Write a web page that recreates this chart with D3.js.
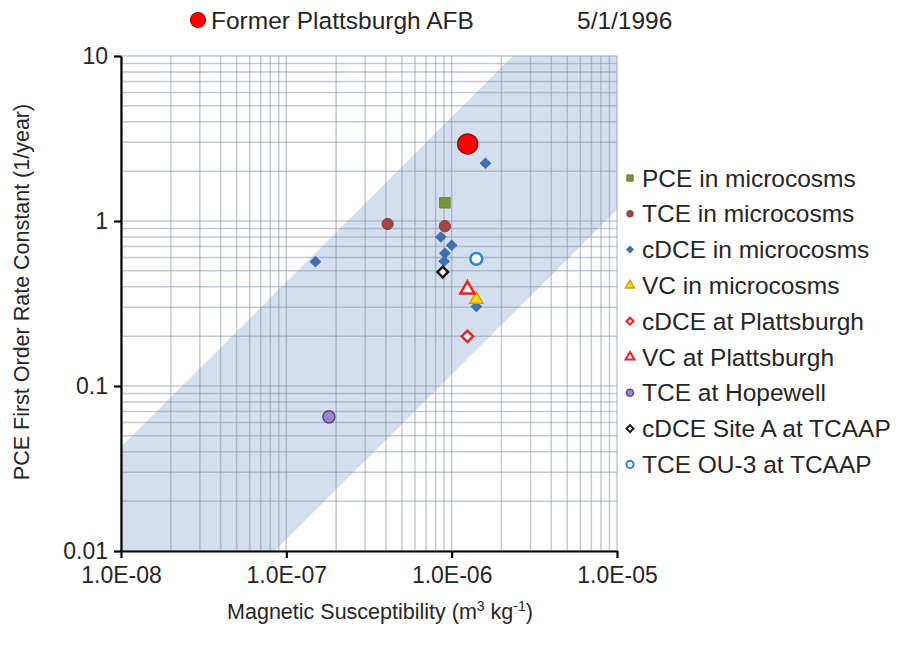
<!DOCTYPE html>
<html>
<head>
<meta charset="utf-8">
<script src="https://cdn.jsdelivr.net/npm/d3@7"></script>
<style>
body { margin: 0; background: #fff; }
text { font-family: "Liberation Sans", Arial, sans-serif; fill: #262626; }
</style>
</head>
<body>
<div id="chart"></div>
<script>
// data
var pceX = [9.1e-7],                pceY = [1.29];
var tceX = [4.1e-7, 9.1e-7],        tceY = [0.96, 0.93];
var cdceX = [1.5e-7, 8.6e-7, 1.0e-6, 9.1e-7, 9.0e-7, 1.41e-6, 1.6e-6];
var cdceY = [0.567, 0.80, 0.713, 0.637, 0.57, 0.303, 2.24];
var vcX = [1.41e-6],                vcY = [0.335];
var cdcePlattX = [1.245e-6],        cdcePlattY = [0.20];
var vcPlattX = [1.245e-6],          vcPlattY = [0.385];
var hopewellX = [1.81e-7],          hopewellY = [0.065];
var siteAX = [8.83e-7],             siteAY = [0.49];
var ou3X = [1.41e-6],               ou3Y = [0.59];
var plattsX = [1.25e-6],            plattsY = [2.93];

var bandX = [1e-8, 2.34e-6, 1e-5, 1e-5, 8.5e-8, 1e-8];
var bandY = [0.0427, 10, 10, 1.17, 0.01, 0.01];

var xTicks = [1e-8, 1e-7, 1e-6, 1e-5];
var xTickLabels = ["1.0E-08", "1.0E-07", "1.0E-06", "1.0E-05"];
var yTicks = [0.01, 0.1, 1, 10];
var yTickLabels = ["0.01", "0.1", "1", "10"];

var legendNames = ["PCE in microcosms", "TCE in microcosms", "cDCE in microcosms", "VC in microcosms",
                   "cDCE at Plattsburgh", "VC at Plattsburgh", "TCE at Hopewell",
                   "cDCE Site A at TCAAP", "TCE OU-3 at TCAAP"];

var svg = d3.select("#chart")
    .append("svg")
    .attr("width", 903)
    .attr("height", 652);

var x = d3.scaleLog().domain([1e-8, 1e-5]).range([121, 617]);
var y = d3.scaleLog().domain([0.01, 10]).range([551, 56]);

// shaded band
var lineGen = d3.line().x(function (d) { return x(d[0]); }).y(function (d) { return y(d[1]); });
svg.append("path")
   .attr("d", lineGen(d3.zip(bandX, bandY)) + "Z")
   .style("fill", "#d3deee")
   .style("stroke", "none");

// grid, majors and minors look the same
var xGrid = [], yGrid = [];
for (var e = -8; e < -5; e++) for (var m = 1; m < 10; m++) xGrid.push(m * Math.pow(10, e));
xGrid.push(1e-5);
for (var e2 = -2; e2 < 1; e2++) for (var m2 = 1; m2 < 10; m2++) yGrid.push(m2 * Math.pow(10, e2));
yGrid.push(10);

var grid = svg.append("g").attr("class", "grid")
    .style("stroke", "#8a96a6").style("stroke-opacity", 0.5).style("stroke-width", 1.5);
grid.selectAll("line.gx").data(xGrid).enter().append("line")
    .attr("x1", function (d) { return x(d); }).attr("x2", function (d) { return x(d); })
    .attr("y1", y(0.01)).attr("y2", y(10));
grid.selectAll("line.gy").data(yGrid).enter().append("line")
    .attr("y1", function (d) { return y(d); }).attr("y2", function (d) { return y(d); })
    .attr("x1", x(1e-8)).attr("x2", x(1e-5));

// axes
var xAxis = svg.append("g")
   .attr("transform", "translate(0," + y(0.01) + ")")
   .call(d3.axisBottom(x).tickValues(xTicks).tickFormat(function (d, i) { return xTickLabels[i]; })
         .tickSizeInner(7).tickSizeOuter(0).tickPadding(9));
var yAxis = svg.append("g")
   .attr("transform", "translate(" + x(1e-8) + ",0)")
   .call(d3.axisLeft(y).tickValues(yTicks).tickFormat(function (d, i) { return yTickLabels[i]; })
         .tickSizeInner(7).tickSizeOuter(0).tickPadding(6));
[xAxis, yAxis].forEach(function (a) {
    a.select(".domain").style("stroke", "#000").style("stroke-width", 2.2);
    a.selectAll(".tick line").style("stroke", "#000").style("stroke-width", 2.2);
    a.selectAll(".tick text").style("font-size", "23px").style("fill", "#262626")
     .style("font-family", "\"Liberation Sans\", Arial, sans-serif");
});

// axis titles
var xt = svg.append("text").attr("x", 380).attr("y", 619).attr("text-anchor", "middle").style("font-size", "21.5px");
xt.append("tspan").text("Magnetic Susceptibility (m");
xt.append("tspan").attr("dy", -8).style("font-size", "14px").text("3");
xt.append("tspan").attr("dy", 8).text(" kg");
xt.append("tspan").attr("dy", -8).style("font-size", "14px").text("-1");
xt.append("tspan").attr("dy", 8).text(")");

svg.append("text")
   .attr("transform", "translate(29,292) rotate(-90)")
   .attr("text-anchor", "middle")
   .style("font-size", "21.5px")
   .text("PCE First Order Rate Constant (1/year)");

// series styles
var series = [
    { xs: pceX, ys: pceY, type: d3.symbolSquare, size: 110, fill: "#77933c", stroke: "#6a8535", sw: 1, lsize: 40 },
    { xs: tceX, ys: tceY, type: d3.symbolCircle, size: 100, fill: "#a04545", stroke: "#8f3c3c", sw: 1, lsize: 34 },
    { xs: cdceX, ys: cdceY, type: d3.symbolSquare, rot: 45, size: 52, fill: "#3f6fae", stroke: "#3f6fae", sw: 1, lsize: 22 },
    { xs: vcX, ys: vcY, type: d3.symbolTriangle, size: 75, fill: "#ffdd00", stroke: "#d49a10", sw: 1.5, lsize: 34 },
    { xs: cdcePlattX, ys: cdcePlattY, type: d3.symbolSquare, rot: 45, size: 64, fill: "#fff", stroke: "#ee2222", sw: 2.5, lsize: 24 },
    { xs: vcPlattX, ys: vcPlattY, type: d3.symbolTriangle, size: 85, fill: "#fff", stroke: "#ee2222", sw: 2.5, lsize: 34 },
    { xs: hopewellX, ys: hopewellY, type: d3.symbolCircle, size: 115, fill: "#9b86c6", stroke: "#5f4690", sw: 1.5, lsize: 40 },
    { xs: siteAX, ys: siteAY, type: d3.symbolSquare, rot: 45, size: 56, fill: "#fff", stroke: "#1a1a1a", sw: 2.5, lsize: 24 },
    { xs: ou3X, ys: ou3Y, type: d3.symbolCircle, size: 110, fill: "#fff", stroke: "#2b86d0", sw: 2.5, lsize: 40 }
];

var pts = svg.append("g").attr("class", "points");
series.forEach(function (s) {
    pts.append("g").selectAll("path")
       .data(d3.zip(s.xs, s.ys))
       .enter()
       .append("path")
       .attr("d", d3.symbol().type(s.type).size(s.size)())
       .attr("transform", function (d) { return "translate(" + x(d[0]) + "," + y(d[1]) + ")" + (s.rot ? " rotate(" + s.rot + ")" : ""); })
       .style("fill", s.fill)
       .style("stroke", s.stroke)
       .style("stroke-width", s.sw);
});

// big red point
pts.selectAll("circle.platts")
   .data(d3.zip(plattsX, plattsY))
   .enter()
   .append("circle")
   .attr("cx", function (d) { return x(d[0]); })
   .attr("cy", function (d) { return y(d[1]); })
   .attr("r", 10)
   .style("fill", "#ff0000")
   .style("stroke", "#9a0f0f")
   .style("stroke-width", 1.5);

// legend
var legend = svg.append("g").attr("transform", "translate(630,178)");
var rows = legend.selectAll("g").data(series).enter().append("g")
   .attr("transform", function (d, i) { return "translate(0," + i * 35.8 + ")"; });
rows.append("path")
   .attr("d", function (d) { return d3.symbol().type(d.type).size(d.lsize)(); })
   .attr("transform", function (d) { return d.rot ? "rotate(" + d.rot + ")" : null; })
   .style("fill", function (d) { return d.fill; })
   .style("stroke", function (d) { return d.stroke; })
   .style("stroke-width", function (d) { return Math.min(d.sw, 2); });
rows.append("text")
   .attr("x", 12)
   .attr("y", 8.5)
   .style("font-size", "24.5px")
   .text(function (d, i) { return legendNames[i]; });

// top label
svg.append("circle").attr("cx", 198).attr("cy", 20).attr("r", 7.5)
   .style("fill", "#ff0000").style("stroke", "#9a0f0f").style("stroke-width", 1.2);
svg.append("text").attr("x", 211).attr("y", 29).style("font-size", "24.5px").text("Former Plattsburgh AFB");
svg.append("text").attr("x", 577).attr("y", 29).style("font-size", "24.5px").text("5/1/1996");
</script>
</body>
</html>
